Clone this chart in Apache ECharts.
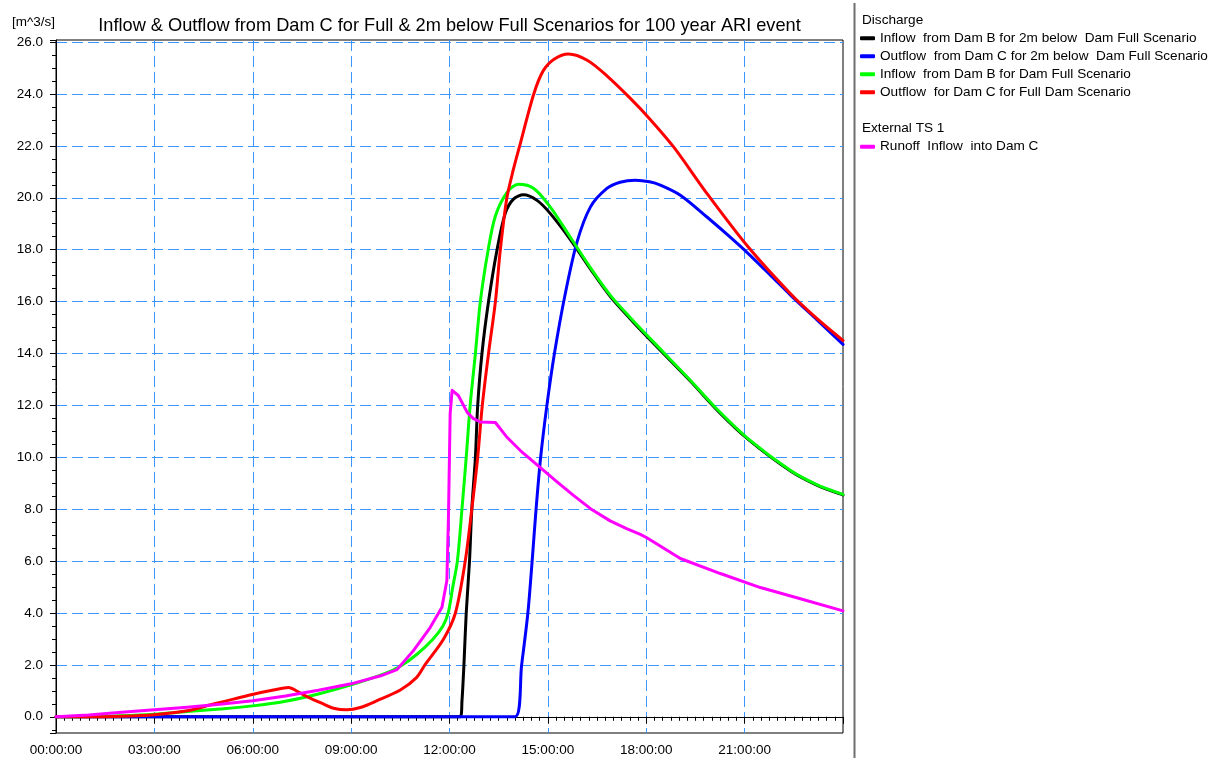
<!DOCTYPE html>
<html>
<head>
<meta charset="utf-8">
<script src="https://cdn.jsdelivr.net/npm/echarts@6/dist/echarts.min.js"></script>
<style>
html,body{margin:0;padding:0;background:#fff;}
#chart{width:1213px;height:758px;}
</style>
</head>
<body>
<div id="chart"></div>
<script>
// ---- Data (time in hours from 00:00:00, discharge in m^3/s) ----
const xTickHours = [0, 3, 6, 9, 12, 15, 18, 21];
const yTickValues = [0, 2, 4, 6, 8, 10, 12, 14, 16, 18, 20, 22, 24, 26];

const blackName = "Inflow  from Dam B for 2m below  Dam Full Scenario";
const blackHours = [0, 12.33, 12.38, 12.44, 12.51, 12.61, 12.68, 12.79, 12.86, 12.99, 13.19, 13.45, 13.7, 13.95, 14.26, 14.67, 15.07, 15.68, 16.3, 16.9, 17.5, 18.1, 19.35, 20.2, 21.11, 22.4, 23.2, 24];
const blackValues = [0, 0, 0.6, 2, 4, 6, 8, 10, 12, 14, 16, 18, 19.4, 19.95, 20.12, 19.9, 19.4, 18.4, 17.25, 16.2, 15.35, 14.55, 12.93, 11.77, 10.69, 9.47, 8.93, 8.55];

const blueName = "Outflow  from Dam C for 2m below  Dam Full Scenario";
const blueHours = [0, 14.0, 14.2, 14.39, 14.52, 14.64, 14.78, 14.97, 15.2, 15.53, 15.89, 16.3, 16.8, 17.2, 17.67, 18.1, 18.43, 19.04, 19.86, 20.5, 21.11, 21.8, 22.4, 23.2, 24];
const blueValues = [0, 0, 2, 4, 6, 8, 10, 12, 14, 16.3, 18.3, 19.65, 20.36, 20.6, 20.68, 20.62, 20.49, 20.1, 19.25, 18.55, 17.85, 17.0, 16.25, 15.3, 14.35];

const greenName = "Inflow  from Dam B for Dam Full Scenario";
const greenHours = [0, 1, 2, 3, 4, 5, 6, 7, 8, 9, 10, 10.5, 11.0, 11.5, 11.8, 11.96, 12.1, 12.24, 12.38, 12.51, 12.63, 12.79, 12.94, 13.18, 13.4, 13.75, 14.1, 14.57, 15.07, 15.68, 16.3, 16.9, 17.5, 18.1, 19.35, 20.2, 21.11, 22.4, 23.2, 24];
const greenValues = [0, 0.01, 0.04, 0.1, 0.2, 0.3, 0.42, 0.6, 0.88, 1.23, 1.65, 1.95, 2.4, 3.0, 3.5, 4.0, 5.0, 6.0, 8.0, 10.0, 12.0, 14.0, 16.0, 18.0, 19.3, 20.2, 20.52, 20.36, 19.65, 18.49, 17.3, 16.25, 15.4, 14.6, 12.96, 11.8, 10.71, 9.49, 8.95, 8.57];

const redName = "Outflow  for Dam C for Full Dam Scenario";
const redHours = [0, 1, 2, 3, 4, 4.8, 5.41, 6.02, 6.63, 7.09, 7.4, 7.7, 8.16, 8.46, 8.87, 9.28, 9.79, 10.5, 11.0, 11.25, 11.82, 12.18, 12.48, 12.68, 12.86, 13.0, 13.19, 13.4, 13.55, 13.75, 13.95, 14.14, 14.57, 14.86, 15.2, 15.63, 16.2, 16.8, 17.5, 18.1, 18.84, 19.86, 21.11, 22.4, 23.2, 24];
const redValues = [0, 0, 0.02, 0.08, 0.23, 0.49, 0.68, 0.87, 1.03, 1.13, 0.95, 0.75, 0.49, 0.33, 0.27, 0.36, 0.62, 1.03, 1.52, 2.0, 3.0, 4.0, 6.0, 8.0, 10.0, 12.0, 14.0, 16.0, 18.0, 20.0, 21.1, 22.0, 24.0, 24.9, 25.35, 25.54, 25.3, 24.7, 23.85, 23.05, 21.95, 20.15, 18.1, 16.3, 15.35, 14.5];

const magentaName = "Runoff  Inflow  into Dam C";
const magentaHours = [0, 1, 2, 3, 4, 5, 6, 7, 8, 9, 9.9, 10.4, 10.9, 11.41, 11.77, 11.92, 11.97, 12.02, 12.08, 12.27, 12.54, 12.72, 12.94, 13.4, 13.76, 14.16, 14.77, 15.28, 15.78, 16.3, 16.9, 17.4, 17.82, 18.03, 19.04, 20.26, 21.48, 22.7, 24];
const magentaValues = [0, 0.07, 0.17, 0.27, 0.37, 0.48, 0.62, 0.8, 1.02, 1.27, 1.58, 1.82, 2.55, 3.44, 4.22, 5.25, 7.82, 11.68, 12.58, 12.38, 11.73, 11.5, 11.36, 11.34, 10.76, 10.26, 9.6, 9.05, 8.53, 8.02, 7.55, 7.25, 7.03, 6.89, 6.1, 5.52, 4.98, 4.55, 4.08];

const titleText = "Inflow & Outflow from Dam C for Full & 2m below Full Scenarios for 100 year ARI event";
const unitText = "[m^3/s]";
const group1Title = "Discharge";
const group2Title = "External TS 1";

// ---- Build ----
const FONT = "'Liberation Sans', Arial, sans-serif";
function pairs(h, v) { return h.map((x, i) => [x, v[i]]); }
function pad(n) { return (n < 10 ? "0" : "") + n; }

const chart = echarts.init(document.getElementById('chart'), null, {renderer: 'canvas'});

function lineSeries(name, color, h, v, smooth) {
  return {
    name: name, type: 'line', data: pairs(h, v),
    showSymbol: false, symbol: 'none',
    smooth: smooth,
    lineStyle: {color: color, width: 3, cap: 'round', join: 'round'},
    itemStyle: {color: color},
    emphasis: {disabled: true},
    clip: true
  };
}

const option = {
  animation: false,
  backgroundColor: '#ffffff',
  textStyle: {fontFamily: FONT},
  grid: {left: 56, right: 370, top: 40, bottom: 25, show: true, borderColor: '#000', borderWidth: 1, containLabel: false},
  xAxis: {
    type: 'value', min: 0, max: 24, interval: 3,
    axisLine: {show: true, lineStyle: {color: '#000', width: 1}},
    axisTick: {show: true, length: 7, lineStyle: {color: '#000'}},
    minorTick: {show: true, splitNumber: 12, length: 4, lineStyle: {color: '#000'}},
    axisLabel: {
      color: '#000', fontSize: 13.5, fontFamily: FONT, margin: 10,
      showMaxLabel: false,
      formatter: function (v) { return xTickHours.indexOf(v) >= 0 ? pad(v) + ":00:00" : ''; }
    },
    splitLine: {show: true, showMinLine: false, showMaxLine: false, lineStyle: {color: '#3b97ff', type: [11, 5], width: 1}}
  },
  yAxis: {
    type: 'value', min: -0.625, max: 26.08, splitNumber: 13,
    axisLine: {show: true, lineStyle: {color: '#000', width: 1}},
    axisTick: {show: true, length: 6, lineStyle: {color: '#000'}},
    minorTick: {show: true, splitNumber: 4, length: 4, lineStyle: {color: '#000'}},
    axisLabel: {
      color: '#000', fontSize: 13.5, fontFamily: FONT, margin: 13,
      formatter: function (v) {
        const r = Math.round(v * 1000) / 1000;
        return yTickValues.indexOf(r) >= 0 ? r.toFixed(1) : '';
      }
    },
    splitLine: {show: true, showMinLine: false, showMaxLine: false, lineStyle: {color: '#3b97ff', type: [11, 5], width: 1}}
  },
  legend: [
    {
      orient: 'vertical', left: 860, top: 29.3, padding: 0, itemGap: 0,
      itemWidth: 15, itemHeight: 4, icon: 'roundRect', selectedMode: false,
      textStyle: {color: '#000', fontSize: 13.6, fontFamily: FONT, lineHeight: 18},
      data: [blackName, blueName, greenName, redName]
    },
    {
      orient: 'vertical', left: 860, top: 137.7, padding: 0, itemGap: 0,
      itemWidth: 15, itemHeight: 4, icon: 'roundRect', selectedMode: false,
      textStyle: {color: '#000', fontSize: 13.6, fontFamily: FONT, lineHeight: 18},
      data: [magentaName]
    }
  ],
  graphic: [
    {type: 'text', x: 449.5, y: 26, silent: true,
     style: {text: titleText, fill: '#000', font: '18.2px ' + FONT, align: 'center', verticalAlign: 'middle'}},
    {type: 'text', x: 12, y: 22, silent: true,
     style: {text: unitText, fill: '#000', font: '13.5px ' + FONT, align: 'left', verticalAlign: 'middle'}},
    {type: 'text', x: 862, y: 20.7, silent: true,
     style: {text: group1Title, fill: '#000', font: '13.6px ' + FONT, align: 'left', verticalAlign: 'middle'}},
    {type: 'text', x: 862, y: 128.3, silent: true,
     style: {text: group2Title, fill: '#000', font: '13.6px ' + FONT, align: 'left', verticalAlign: 'middle'}},
    {type: 'line', silent: true, shape: {x1: 854.5, y1: 3, x2: 854.5, y2: 758},
     style: {stroke: '#6e6e6e', lineWidth: 2}}
  ],
  series: [
    lineSeries(blackName, '#000000', blackHours, blackValues, 0.3),
    lineSeries(blueName, '#0000ff', blueHours, blueValues, 0.3),
    lineSeries(greenName, '#00ff00', greenHours, greenValues, 0.3),
    lineSeries(redName, '#ff0000', redHours, redValues, 0.3),
    lineSeries(magentaName, '#ff00ff', magentaHours, magentaValues, false)
  ]
};
chart.setOption(option);
</script>
</body>
</html>
